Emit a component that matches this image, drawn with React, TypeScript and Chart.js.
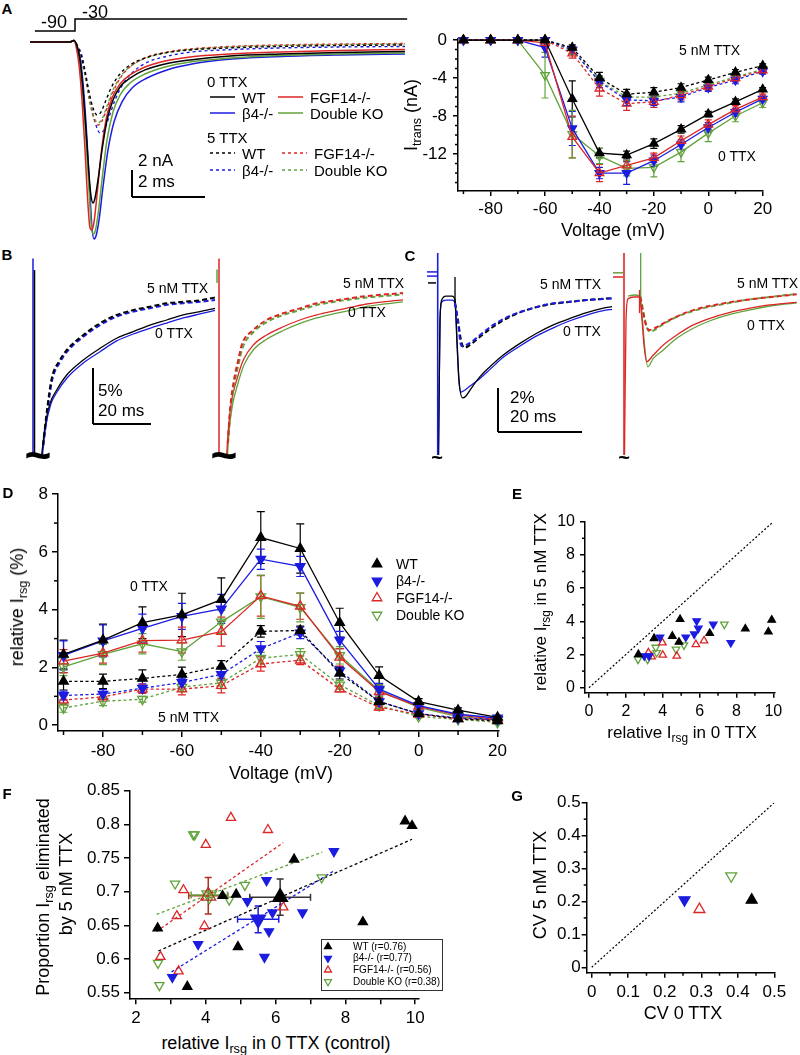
import React, { useEffect, useRef } from 'react';
import { Chart, registerables } from 'chart.js';
Chart.register(...registerables);

const FONT = "'Liberation Sans', Arial, Helvetica, sans-serif";
Chart.defaults.font.family = FONT;
Chart.defaults.color = '#000';

const BLACK = '#000000';
const BLUE = '#1c1ce0';
const RED = '#dc2626';
const GREEN = '#62a23c';
const DARKRED = '#b0321e';
const CLEAR = 'rgba(0,0,0,0)';

// ---------------- Panel A (left): transient currents, [ms, nA] ----------------
const A_STEP_T = [-1.1, 0, 0, 9.1];
const A_STEP_MV = [-90, -90, -30, -30];
const A_WT_0 = [[-1.23,0],[-0.14,0],[-0.03,0.11],[0.055,-0.3],[0.137,-1.33],[0.219,-3.56],[0.301,-6.52],[0.384,-9.85],[0.438,-11.41],[0.493,-11.93],[0.548,-11.56],[0.63,-10.22],[0.74,-8.0],[0.877,-5.78],[1.041,-4.3],[1.233,-3.33],[1.507,-2.67],[1.918,-2.07],[2.466,-1.63],[3.151,-1.33],[4.247,-1.04],[5.616,-0.89],[7.26,-0.78],[9.04,-0.7]];
const A_FGF_0 = [[-1.23,0],[-0.14,0],[-0.03,0.11],[0.027,-0.3],[0.11,-1.7],[0.192,-4.3],[0.274,-8.0],[0.356,-12.07],[0.411,-13.78],[0.466,-13.93],[0.521,-13.33],[0.603,-11.33],[0.712,-8.37],[0.849,-5.78],[1.014,-4.15],[1.233,-3.11],[1.507,-2.44],[1.918,-1.85],[2.466,-1.41],[3.151,-1.11],[4.247,-0.89],[5.616,-0.74],[7.26,-0.63],[9.04,-0.56]];
const A_DKO_0 = [[-1.23,0],[-0.14,0],[-0.03,0.11],[0.055,-0.3],[0.137,-1.48],[0.219,-3.93],[0.301,-7.26],[0.384,-10.96],[0.438,-13.33],[0.493,-14.22],[0.548,-14.07],[0.63,-12.81],[0.74,-10.22],[0.877,-7.26],[1.041,-5.19],[1.233,-3.93],[1.507,-3.04],[1.918,-2.37],[2.466,-1.85],[3.151,-1.48],[4.247,-1.19],[5.616,-1.0],[7.26,-0.89],[9.04,-0.81]];
const A_B4_0 = [[-1.23,0],[-0.14,0],[-0.03,0.11],[0.055,-0.3],[0.151,-1.33],[0.247,-3.93],[0.329,-7.26],[0.411,-11.33],[0.466,-13.78],[0.521,-14.59],[0.575,-14.37],[0.658,-13.19],[0.767,-10.74],[0.904,-8.0],[1.068,-5.93],[1.288,-4.44],[1.562,-3.41],[1.973,-2.67],[2.521,-2.07],[3.205,-1.63],[4.301,-1.26],[5.671,-1.07],[7.26,-0.96],[9.04,-0.89]];
const A_WT_5 = [[-1.23,0],[-0.14,0],[-0.03,0.11],[0.055,-0.22],[0.164,-0.96],[0.274,-2.22],[0.384,-3.7],[0.493,-4.89],[0.603,-5.41],[0.712,-5.19],[0.849,-4.3],[1.014,-3.26],[1.233,-2.37],[1.507,-1.7],[1.918,-1.19],[2.466,-0.81],[3.151,-0.59],[4.247,-0.44],[5.616,-0.33],[7.26,-0.26],[9.04,-0.22]];
const A_DKO_5 = [[-1.23,0],[-0.14,0],[-0.03,0.11],[0.055,-0.22],[0.164,-1.04],[0.274,-2.44],[0.384,-4.07],[0.493,-5.33],[0.63,-6.0],[0.74,-5.7],[0.877,-4.74],[1.041,-3.56],[1.26,-2.52],[1.534,-1.78],[1.945,-1.19],[2.521,-0.78],[3.151,-0.56],[4.247,-0.37],[5.616,-0.26],[7.26,-0.19],[9.04,-0.15]];
const A_FGF_5 = [[-1.23,0],[-0.14,0],[-0.03,0.11],[0.055,-0.22],[0.164,-1.04],[0.274,-2.52],[0.384,-4.15],[0.493,-5.48],[0.63,-6.15],[0.74,-5.85],[0.877,-4.89],[1.041,-3.7],[1.26,-2.59],[1.534,-1.78],[1.945,-1.15],[2.521,-0.74],[3.151,-0.52],[4.247,-0.33],[5.616,-0.22],[7.26,-0.15],[9.04,-0.11]];
const A_B4_5 = [[-1.23,0],[-0.14,0],[-0.03,0.11],[0.055,-0.22],[0.192,-1.04],[0.301,-2.52],[0.411,-4.3],[0.548,-5.93],[0.685,-6.74],[0.795,-6.52],[0.932,-5.56],[1.096,-4.3],[1.315,-3.11],[1.589,-2.22],[2.0,-1.48],[2.548,-1.04],[3.205,-0.74],[4.301,-0.56],[5.671,-0.44],[7.26,-0.37],[9.04,-0.33]];

// ---------------- Panel A (right): I-V ----------------
const IV_V = [-90, -80, -70, -60, -50, -40, -30, -20, -10, 0, 10, 20];
const IV_WT_0 = [0, 0, 0, 0, -6.2, -11.9, -12.1, -10.9, -9.4, -7.8, -6.5, -5.2];
const IV_B4_0 = [0, 0, 0, -0.8, -9.3, -14.0, -14.0, -12.7, -11.0, -9.2, -7.6, -6.2];
const IV_FGF_0 = [0, 0, 0, -0.3, -10.2, -14.0, -13.2, -12.4, -10.6, -8.9, -7.3, -6.0];
const IV_DKO_0 = [0, 0, 0, -3.7, -9.9, -12.2, -13.5, -13.4, -11.8, -9.8, -8.0, -6.6];
const IV_WT_5 = [0, 0, 0, 0, -0.8, -4.0, -5.7, -5.5, -5.0, -4.2, -3.4, -2.7];
const IV_B4_5 = [0, 0, 0, 0, -1.0, -4.4, -6.3, -6.4, -6.0, -5.0, -4.2, -3.3];
const IV_FGF_5 = [0, 0, 0, 0, -1.4, -5.1, -6.7, -6.5, -5.8, -4.9, -4.0, -3.2];
const IV_DKO_5 = [0, 0, 0, 0, -1.1, -4.3, -6.0, -6.0, -5.6, -4.7, -3.9, -3.1];
const IV_WT_0_E = [0.1, 0.1, 0.1, 0.2, 1.9, 0.5, 0.4, 0.5, 0.4, 0.3, 0.3, 0.2];
const IV_B4_0_E = [0.1, 0.1, 0.1, 1.0, 1.8, 0.6, 1.2, 0.6, 0.5, 0.5, 0.4, 0.3];
const IV_FGF_0_E = [0.1, 0.1, 0.1, 0.3, 2.2, 0.9, 0.5, 0.5, 0.5, 0.5, 0.4, 0.3];
const IV_DKO_0_E = [0.1, 0.1, 0.1, 2.4, 2.5, 0.8, 0.8, 1.0, 1.0, 0.9, 0.6, 0.5];
const IV_WT_5_E = [0.1, 0.1, 0.1, 0.1, 0.3, 0.6, 0.5, 0.5, 0.4, 0.3, 0.3, 0.2];
const IV_B4_5_E = [0.1, 0.1, 0.1, 0.1, 0.4, 0.6, 0.6, 0.5, 0.5, 0.4, 0.4, 0.3];
const IV_FGF_5_E = [0.1, 0.1, 0.1, 0.1, 0.5, 0.8, 0.7, 0.6, 0.5, 0.4, 0.4, 0.3];
const IV_DKO_5_E = [0.1, 0.1, 0.1, 0.1, 0.4, 0.5, 0.5, 0.5, 0.5, 0.4, 0.3, 0.3];
const IV_XTICKS = [-80, -60, -40, -20, 0, 20];
const IV_XMINOR = [-90, -70, -50, -30, -10, 10];
const IV_YTICKS = [-12, -8, -4, 0];
const IV_YMINOR = [-15, -14, -13, -11, -10, -9, -7, -6, -5, -3, -2, -1];

// ---------------- Panel B: resurgent traces [ms, %] ----------------
const B_L_WT_0 = [[4.03,0.45],[5.17,2.97],[6.9,5.06],[9.2,6.25],[12.66,7.59],[18.38,8.93],[24.14,9.97],[29.9,10.87],[35.62,11.46],[41.38,12.05],[47.14,12.5],[52.86,12.95],[58.62,13.24],[63.79,13.54]];
const B_L_B4_0 = [[4.31,0.45],[5.34,2.86],[7.07,4.91],[9.31,6.07],[12.76,7.32],[18.38,8.66],[24.14,9.67],[29.9,10.63],[35.62,11.25],[41.38,11.76],[47.14,12.23],[52.86,12.68],[58.62,13.04],[63.79,13.35]];
const B_L_WT_5 = [[4.48,1.34],[5.86,4.46],[7.48,7.29],[10.34,8.93],[12.66,9.82],[18.38,11.16],[24.14,12.21],[29.9,12.95],[35.62,13.39],[41.38,13.69],[47.14,13.99],[52.86,14.13],[58.62,14.26],[63.79,14.51]];
const B_L_B4_5 = [[4.6,1.3],[6.0,4.3],[7.6,7.1],[10.4,8.75],[12.7,9.65],[18.38,11.0],[24.14,12.05],[29.9,12.8],[35.62,13.25],[41.38,13.55],[47.14,13.85],[52.86,14.0],[58.62,14.12],[63.79,14.29]];
const B_L_WT_JUMP = [[1.55,0.63],[1.55,16.96]];
const B_L_B4_JUMP = [[1.03,0.63],[1.03,18.0]];
const B_R_FGF_0 = [[4.03,0.45],[4.59,2.68],[5.76,5.36],[7.48,7.14],[9.76,8.93],[13.21,10.27],[17.83,11.16],[23.55,11.9],[29.31,12.5],[35.07,12.95],[40.79,13.3],[46.55,13.62],[52.31,13.93],[64.83,14.29]];
const B_R_DKO_0 = [[4.31,0.45],[4.83,2.5],[6.03,4.91],[7.76,6.7],[10.0,8.48],[13.45,9.91],[17.93,10.8],[23.55,11.56],[29.31,12.19],[35.07,12.68],[40.79,13.04],[46.55,13.35],[52.31,13.71],[64.83,14.11]];
const B_R_FGF_5 = [[4.4,1.5],[5.17,4.46],[6.55,7.14],[8.03,8.93],[9.21,10.27],[13.21,11.61],[17.83,12.5],[23.55,13.1],[29.31,13.54],[35.07,13.99],[40.79,14.22],[46.55,14.44],[52.31,14.64],[64.83,14.91]];
const B_R_DKO_5 = [[4.5,1.5],[5.34,4.29],[6.72,6.88],[8.21,8.66],[9.48,10.0],[13.28,11.43],[17.93,12.32],[23.55,12.95],[29.31,13.39],[35.07,13.84],[40.79,14.11],[46.55,14.33],[52.31,14.51],[64.83,14.78]];
const B_R_FGF_JUMP = [[1.38,0.63],[1.38,18.0]];
const B_R_DKO_JUMP = [[0.69,15.8],[0.69,17.0]];

// ---------------- Panel C: resurgent traces [ms, %] ----------------
const C_L_WT_0 = [[3.23,0.23],[3.59,6.36],[4.0,7.27],[5.02,7.45],[6.46,7.45],[7.18,7.27],[7.66,5.45],[8.13,3.64],[9.02,2.82],[9.81,2.91],[10.77,3.18],[13.16,3.79],[15.55,4.24],[18.73,4.77],[22.73,5.3],[26.72,5.76],[30.69,6.14],[34.69,6.44],[38.68,6.7],[42.66,6.9],[44.74,6.97]];
const C_L_B4_0 = [[3.23,0.23],[3.59,6.36],[4.0,7.18],[5.02,7.27],[6.46,7.27],[7.18,7.14],[7.66,5.23],[8.13,3.55],[8.61,3.09],[9.57,3.18],[10.77,3.36],[13.16,3.71],[15.55,4.12],[18.73,4.67],[22.73,5.18],[26.72,5.64],[30.69,6.01],[34.69,6.33],[38.68,6.59],[42.66,6.79],[44.74,6.85]];
const C_L_WT_5 = [[7.18,7.14],[7.89,6.36],[8.61,5.45],[9.4,5.1],[10.77,5.23],[13.16,5.6],[16.34,6.06],[20.33,6.51],[24.33,6.82],[29.11,7.05],[33.9,7.17],[38.68,7.27],[44.74,7.36]];
const C_L_B4_5 = [[7.18,7.14],[7.89,6.27],[8.49,5.32],[8.85,5.18],[10.77,5.32],[13.16,5.68],[16.34,6.14],[20.33,6.55],[24.33,6.82],[29.11,7.07],[33.9,7.18],[38.68,7.27],[44.74,7.34]];
const C_L_B4_JUMP = [[3.04,0.23],[3.04,9.41]];
const C_L_B4_PRE1 = [[0.48,8.55],[2.87,8.55]];
const C_L_B4_PRE2 = [[0.48,8.36],[2.87,8.36]];
const C_L_WT_PRE = [[0.72,8.05],[2.63,8.05]];
const C_L_WT_STEP = [[7.18,8.32],[7.18,7.14]];
const C_R_FGF_0 = [[3.47,0.23],[3.83,6.36],[4.31,7.32],[5.74,7.41],[7.06,7.41],[7.66,6.36],[8.13,5.23],[8.78,4.47],[10.36,4.77],[12.75,5.23],[15.96,5.68],[19.93,6.14],[23.92,6.44],[28.71,6.71],[33.49,6.9],[38.28,7.05],[44.67,7.17]];
const C_R_DKO_0 = [[4.31,7.45],[5.74,7.5],[7.18,7.45],[7.78,6.36],[8.25,5.23],[9.04,4.24],[10.36,4.62],[12.75,5.0],[15.96,5.53],[19.93,5.99],[23.92,6.33],[28.71,6.62],[33.49,6.82],[38.28,7.0],[44.67,7.14]];
const C_R_FGF_5 = [[7.18,7.41],[7.89,6.73],[8.61,6.14],[9.4,5.91],[10.77,6.0],[12.75,6.21],[16.75,6.59],[21.53,6.9],[27.11,7.12],[33.49,7.3],[39.07,7.42],[44.67,7.53]];
const C_R_DKO_5 = [[7.3,7.45],[8.13,6.59],[8.85,6.0],[9.57,5.83],[11.0,5.95],[12.75,6.18],[16.75,6.57],[21.53,6.86],[27.11,7.09],[33.49,7.3],[39.07,7.43],[44.67,7.55]];
const C_R_FGF_JUMP = [[3.35,0.23],[3.35,9.41]];
const C_R_DKO_JUMP = [[7.34,7.42],[7.34,9.41]];
const C_R_FGF_STEP = [[7.06,6.68],[7.06,7.73]];
const C_R_DKO_PRE = [[0.72,8.51],[3.11,8.51]];
const C_R_FGF_PRE = [[0.72,8.32],[3.11,8.32]];

// ---------------- Panel D: relative Irsg vs voltage ----------------
const D_V = [-90, -80, -70, -60, -50, -40, -30, -20, -10, 0, 10, 20];
const D_WT_0 = [2.45, 2.95, 3.55, 3.82, 4.35, 6.5, 6.12, 3.55, 1.72, 0.82, 0.52, 0.27];
const D_B4_0 = [2.42, 2.92, 3.35, 3.77, 4.03, 5.75, 5.5, 2.95, 1.25, 0.68, 0.38, 0.25];
const D_FGF_0 = [2.22, 2.5, 2.93, 2.95, 3.24, 4.48, 4.12, 2.35, 1.16, 0.65, 0.35, 0.2];
const D_DKO_0 = [2.02, 2.45, 2.82, 2.55, 3.58, 4.45, 4.08, 2.42, 1.2, 0.62, 0.3, 0.18];
const D_WT_5 = [1.52, 1.52, 1.62, 1.76, 2.04, 3.25, 3.28, 1.8, 0.82, 0.4, 0.22, 0.15];
const D_B4_5 = [1.03, 1.08, 1.28, 1.48, 1.76, 2.65, 3.2, 1.88, 0.82, 0.4, 0.25, 0.2];
const D_FGF_5 = [0.87, 0.98, 1.25, 1.25, 1.37, 2.12, 2.25, 1.25, 0.62, 0.38, 0.22, 0.18];
const D_DKO_5 = [0.6, 0.83, 0.9, 1.32, 1.47, 2.32, 2.45, 1.4, 0.68, 0.3, 0.2, 0.1];
const D_WT_0_E = [0.5, 0.55, 0.55, 0.75, 0.75, 0.9, 0.85, 0.5, 0.3, 0.1, 0.08, 0.05];
const D_B4_0_E = [0.5, 0.55, 0.5, 0.45, 0.5, 0.35, 0.35, 0.3, 0.2, 0.1, 0.08, 0.05];
const D_FGF_0_E = [0.4, 0.35, 0.4, 0.45, 0.5, 0.7, 0.45, 0.3, 0.2, 0.1, 0.05, 0.05];
const D_DKO_0_E = [0.3, 0.35, 0.35, 0.3, 0.4, 0.75, 0.5, 0.3, 0.2, 0.08, 0.05, 0.05];
const D_WT_5_E = [0.3, 0.25, 0.3, 0.25, 0.2, 0.2, 0.15, 0.2, 0.15, 0.08, 0.05, 0.05];
const D_B4_5_E = [0.15, 0.15, 0.15, 0.15, 0.2, 0.25, 0.2, 0.15, 0.1, 0.05, 0.05, 0.05];
const D_FGF_5_E = [0.15, 0.15, 0.15, 0.2, 0.25, 0.25, 0.15, 0.1, 0.1, 0.05, 0.05, 0.05];
const D_DKO_5_E = [0.15, 0.15, 0.1, 0.15, 0.2, 0.2, 0.2, 0.15, 0.1, 0.05, 0.05, 0.05];
const D_XTICKS = [-80, -60, -40, -20, 0, 20];
const D_XMINOR = [-90, -70, -50, -30, -10, 10];
const D_YTICKS = [0, 2, 4, 6, 8];
const D_YMINOR = [1, 3, 5, 7];

// ---------------- Panel E ----------------
const E_WT_X = [2.68, 3.53, 4.52, 4.94, 4.88, 6.55, 8.48, 9.73, 9.91];
const E_WT_Y = [2.01, 2.97, 3.11, 4.12, 2.75, 3.28, 3.55, 3.37, 4.08];
const E_B4_X = [3.0, 3.26, 3.85, 5.25, 5.71, 5.84, 5.93, 6.74, 7.69];
const E_B4_Y = [1.91, 1.91, 3.04, 3.04, 3.23, 4.02, 3.58, 3.82, 2.71];
const E_FGF_X = [3.22, 3.4, 3.98, 4.0, 4.76, 5.8, 6.24];
const E_FGF_Y = [2.11, 1.87, 2.71, 1.97, 1.91, 2.61, 2.83];
const E_DKO_X = [2.66, 3.18, 3.62, 3.67, 4.72, 5.15, 7.34];
const E_DKO_Y = [1.71, 1.71, 2.43, 2.11, 2.31, 2.57, 3.82];
const E_UNITY = [[0, 0], [10, 10]];
const E_TICKS = [0, 2, 4, 6, 8, 10];
const E_MINOR = [1, 3, 5, 7, 9];

// ---------------- Panel F ----------------
const F_WT_X = [2.62, 3.47, 4.48, 4.87, 4.92, 6.53, 8.5, 9.71, 9.91];
const F_WT_Y = [0.646, 0.559, 0.694, 0.696, 0.618, 0.748, 0.655, 0.805, 0.798];
const F_B4_X = [3.04, 3.78, 5.19, 5.68, 5.74, 5.81, 5.91, 6.77, 7.67];
const F_B4_Y = [0.573, 0.622, 0.686, 0.603, 0.717, 0.641, 0.669, 0.669, 0.76];
const F_FGF_X = [2.7, 3.22, 3.17, 3.36, 3.96, 4.0, 4.72, 5.78, 6.22];
const F_FGF_Y = [0.6035, 0.582, 0.664, 0.7025, 0.649, 0.77, 0.81, 0.792, 0.677];
const F_DKO_X = [2.63, 2.67, 3.12, 3.64, 3.68, 4.67, 5.12, 7.32];
const F_DKO_Y = [0.594, 0.561, 0.712, 0.785, 0.785, 0.688, 0.71, 0.721];
const F_WT_FIT = [[2.64, 0.612], [9.91, 0.778]];
const F_B4_FIT = [[3.02, 0.581], [7.67, 0.731]];
const F_FGF_FIT = [[2.59, 0.641], [6.22, 0.773]];
const F_DKO_FIT = [[2.59, 0.6665], [7.34, 0.759]];
// mean [x, y, xErr, yErr]
const F_WT_MEAN = [6.13, 0.692, 0.87, 0.027];
const F_B4_MEAN = [5.5, 0.659, 0.59, 0.02];
const F_FGF_MEAN = [4.07, 0.694, 0.56, 0.027];
const F_DKO_MEAN = [4.1, 0.695, 0.52, 0.004];
const F_XTICKS = [2, 3, 4, 5, 6, 7, 8, 9, 10];
const F_YTICKS = [0.55, 0.6, 0.65, 0.7, 0.75, 0.8, 0.85];
const F_LEGEND = ['WT (r=0.76)', 'β4-/- (r=0.77)', 'FGF14-/- (r=0.56)', 'Double KO (r=0.38)'];

// ---------------- Panel G ----------------
const G_CV0 = [0.438, 0.254, 0.295, 0.382];   // WT, b4, FGF14, DKO
const G_CV5 = [0.2045, 0.2045, 0.176, 0.2775];
const G_UNITY = [[0, 0], [0.5, 0.5]];
const G_TICKS = [0, 0.1, 0.2, 0.3, 0.4, 0.5];
const G_MINOR = [0.05, 0.15, 0.25, 0.35, 0.45];

const GROUPS = ['WT', 'β4-/-', 'FGF14-/-', 'Double KO'];

// ---------------- helpers ----------------
const pts = (a: number[][]) => a.map(([x, y]) => ({ x, y }));
const xy = (xs: number[], ys: number[]) => xs.map((x, i) => ({ x, y: ys[i] }));

function triPath(ctx: CanvasRenderingContext2D, x: number, y: number, r: number, down: boolean) {
  let a = down ? Math.PI : 0;
  ctx.beginPath();
  for (let k = 0; k < 3; k++) {
    const px = x + Math.sin(a) * r, py = y - Math.cos(a) * r;
    if (k === 0) ctx.moveTo(px, py); else ctx.lineTo(px, py);
    a += (2 * Math.PI) / 3;
  }
  ctx.closePath();
}

const errorBarsPlugin = {
  id: 'errorBars',
  beforeDatasetsDraw(chart: any) {
    const ctx = chart.ctx;
    chart.data.datasets.forEach((ds: any, i: number) => {
      if (!ds.yErr && !ds.xErr) return;
      const meta = chart.getDatasetMeta(i);
      const xs = chart.scales[meta.xAxisID], ys = chart.scales[meta.yAxisID];
      const cap = ds.errCap ?? 3.5;
      ctx.save();
      ctx.strokeStyle = ds.errColor || ds.borderColor;
      ctx.lineWidth = ds.errWidth || 1.2;
      ctx.setLineDash([]);
      ds.data.forEach((p: any, j: number) => {
        const px = xs.getPixelForValue(p.x), py = ys.getPixelForValue(p.y);
        const ye = ds.yErr ? ds.yErr[j] : 0;
        if (ye) {
          const a = ys.getPixelForValue(p.y + ye), b = ys.getPixelForValue(p.y - ye);
          ctx.beginPath();
          ctx.moveTo(px, a); ctx.lineTo(px, b);
          ctx.moveTo(px - cap, a); ctx.lineTo(px + cap, a);
          ctx.moveTo(px - cap, b); ctx.lineTo(px + cap, b);
          ctx.stroke();
        }
        const xe = ds.xErr ? ds.xErr[j] : 0;
        if (xe) {
          const a = xs.getPixelForValue(p.x - xe), b = xs.getPixelForValue(p.x + xe);
          ctx.beginPath();
          ctx.moveTo(a, py); ctx.lineTo(b, py);
          ctx.moveTo(a, py - cap); ctx.lineTo(a, py + cap);
          ctx.moveTo(b, py - cap); ctx.lineTo(b, py + cap);
          ctx.stroke();
        }
      });
      ctx.restore();
    });
  },
};

function minorTicks(xv: number[] | null, yv: number[] | null, len = 3) {
  return {
    id: 'minorTicks',
    afterDraw(chart: any) {
      const ctx = chart.ctx;
      ctx.save();
      ctx.strokeStyle = '#000';
      ctx.lineWidth = 1.5;
      const sx = chart.scales.x, sy = chart.scales.y;
      (xv || []).forEach((v) => {
        const p = sx.getPixelForValue(v);
        ctx.beginPath(); ctx.moveTo(p, sx.top); ctx.lineTo(p, sx.top + len); ctx.stroke();
      });
      (yv || []).forEach((v) => {
        const p = sy.getPixelForValue(v);
        ctx.beginPath(); ctx.moveTo(sy.right, p); ctx.lineTo(sy.right - len, p); ctx.stroke();
      });
      ctx.restore();
    },
  };
}

// keys: legend glyphs in page coordinates
function keys(items: any[], ox: number, oy: number) {
  return {
    id: 'keys',
    afterDraw(chart: any) {
      const ctx = chart.ctx;
      items.forEach((it) => {
        ctx.save();
        if (it.kind === 'line') {
          ctx.strokeStyle = it.color;
          ctx.lineWidth = it.width || 1.5;
          ctx.setLineDash(it.dash || []);
          ctx.beginPath(); ctx.moveTo(it.x1 - ox, it.y - oy); ctx.lineTo(it.x2 - ox, it.y - oy); ctx.stroke();
        } else {
          triPath(ctx, it.x - ox, it.y - oy, it.r, it.down);
          if (it.filled) { ctx.fillStyle = it.color; ctx.fill(); }
          ctx.strokeStyle = it.color; ctx.lineWidth = it.width || 1.3; ctx.stroke();
        }
        ctx.restore();
      });
    },
  };
}

const trace = (p: number[][], color: string, dashed = false, width = 1.3, dash = [5, 3]) => ({
  data: pts(p), showLine: true, pointRadius: 0, borderColor: color, borderWidth: width,
  borderDash: dashed ? dash : [], cubicInterpolationMode: 'monotone', fill: false,
});
const seg = (p: number[][], color: string, width = 1.3, dash: number[] = []) => ({
  data: pts(p), showLine: true, pointRadius: 0, borderColor: color, borderWidth: width, borderDash: dash, tension: 0, fill: false,
});

function marks(data: any[], color: string, filled: boolean, down: boolean, r: number, extra: any = {}) {
  return {
    data, showLine: false, pointStyle: 'triangle', pointRotation: down ? 180 : 0, pointRadius: r,
    pointBackgroundColor: filled ? color : CLEAR, pointBorderColor: color, pointBorderWidth: 1.3,
    borderColor: color, clip: false, ...extra,
  };
}
function series(xs: number[], ys: number[], err: number[], color: string, filled: boolean, down: boolean, dashed: boolean, r: number, cap: number) {
  return {
    ...marks(xy(xs, ys), color, filled, down, r),
    showLine: true, borderWidth: 1.3, borderDash: dashed ? [3, 2.5] : [], tension: 0,
    yErr: err, errCap: cap, errWidth: 1.2,
  };
}

function traceConfig(xmax: number, ymin: number, ymax: number, datasets: any[], plugins: any[] = [], xmin = 0, extraScales: any = {}) {
  return {
    type: 'scatter',
    data: { datasets },
    options: {
      responsive: false, animation: false, devicePixelRatio: 1, events: [],
      layout: { padding: 0 },
      plugins: { legend: { display: false }, tooltip: { enabled: false } },
      scales: {
        x: { type: 'linear', display: false, min: xmin, max: xmax },
        y: { type: 'linear', display: false, min: ymin, max: ymax },
        ...extraScales,
      },
    },
    plugins,
  };
}

function axisConfig(o: any) {
  const mk = (ax: any, isX: boolean) => ({
    type: 'linear', min: ax.min, max: ax.max,
    afterBuildTicks: (s: any) => { s.ticks = ax.ticks.map((v: number) => ({ value: v })); },
    afterFit: (s: any) => { if (isX) s.height = o.xHeight; else s.width = o.yWidth; },
    ticks: {
      font: { size: o.fontSize, family: FONT }, color: '#000', padding: isX ? o.xPad : o.yPad,
      autoSkip: false, maxRotation: 0, minRotation: 0,
      callback: (v: number) => (ax.label ? ax.label(v) : String(v)),
    },
    grid: { display: true, drawOnChartArea: false, drawTicks: true, tickLength: o.tickLen, color: '#000', lineWidth: 1.5 },
    border: { display: true, color: '#000', width: 1.5 },
  });
  return {
    type: 'scatter',
    data: { datasets: o.datasets },
    options: {
      responsive: false, animation: false, devicePixelRatio: 1, events: [],
      layout: { padding: { left: 0, top: o.padTop, right: o.padRight, bottom: 0 } },
      plugins: { legend: { display: false }, tooltip: { enabled: false } },
      scales: { x: mk(o.x, true), y: mk(o.y, false) },
    },
    plugins: [errorBarsPlugin, ...(o.plugins || [])],
  };
}

function ChartCanvas({ left, top, width, height, config }: any) {
  const ref = useRef<HTMLCanvasElement>(null);
  useEffect(() => {
    const chart = new Chart(ref.current as HTMLCanvasElement, config);
    return () => chart.destroy();
  }, []);
  return <canvas ref={ref} width={width} height={height} style={{ position: 'absolute', left, top, width, height }} />;
}

function L({ x, y, s = 14, a = 'start', rot = false, b = false, children }: any) {
  const tx = a === 'middle' ? '-50%' : a === 'end' ? '-100%' : '0';
  return (
    <div style={{
      position: 'absolute', left: x, top: y, fontSize: s, lineHeight: 1, whiteSpace: 'nowrap',
      fontWeight: b ? 'bold' : 'normal',
      transform: rot ? 'translate(-50%,-50%) rotate(-90deg)' : `translate(${tx},-50%)`,
    }}>{children}</div>
  );
}
const Sub = ({ children }: any) => (
  <span style={{ fontSize: '0.7em', position: 'relative', top: '0.35em' }}>{children}</span>
);
const HLine = ({ x1, x2, y }: any) => <div style={{ position: 'absolute', left: x1, top: y - 0.75, width: x2 - x1, height: 1.5, background: '#000' }} />;
const VLine = ({ x, y1, y2 }: any) => <div style={{ position: 'absolute', left: x - 0.75, top: y1, width: 1.5, height: y2 - y1, background: '#000' }} />;

// ---------------- chart configs ----------------
function cfgALeft() {
  const ds = [
    trace(A_WT_0, BLACK, false, 1.5),
    trace(A_FGF_0, RED, false, 1.5),
    trace(A_DKO_0, GREEN, false, 1.5),
    trace(A_B4_0, BLUE, false, 1.5),
    trace(A_WT_5, BLACK, true, 1.4, [3, 3]),
    trace(A_DKO_5, GREEN, true, 1.4, [3, 3]),
    trace(A_FGF_5, RED, true, 1.4, [3, 3]),
    trace(A_B4_5, BLUE, true, 1.4, [3, 3]),
    { ...seg(A_STEP_T.map((t, i) => [t, A_STEP_MV[i]]), BLACK, 1.5), yAxisID: 'yv' },
  ];
  const lines = [
    { kind: 'line', x1: 210, x2: 235, y: 97, color: BLACK },
    { kind: 'line', x1: 278, x2: 303, y: 97, color: RED },
    { kind: 'line', x1: 210, x2: 235, y: 113, color: BLUE },
    { kind: 'line', x1: 278, x2: 303, y: 113, color: GREEN },
    { kind: 'line', x1: 210, x2: 235, y: 153, color: BLACK, dash: [3, 3] },
    { kind: 'line', x1: 282, x2: 307, y: 153, color: RED, dash: [3, 3] },
    { kind: 'line', x1: 210, x2: 235, y: 170, color: BLUE, dash: [3, 3] },
    { kind: 'line', x1: 282, x2: 307, y: 170, color: GREEN, dash: [3, 3] },
  ];
  return traceConfig(9.178, -15.04, 2.37, ds, [keys(lines, 28, 10)], -1.288,
    { yv: { type: 'linear', display: false, min: -1160, max: 15 } });
}

function cfgARight() {
  const ds = [
    series(IV_V, IV_WT_0, IV_WT_0_E, BLACK, true, false, false, 5, 3.5),
    series(IV_V, IV_WT_5, IV_WT_5_E, BLACK, true, false, true, 5, 3.5),
    series(IV_V, IV_FGF_0, IV_FGF_0_E, RED, false, false, false, 5, 3.5),
    series(IV_V, IV_B4_0, IV_B4_0_E, BLUE, true, true, false, 5, 3.5),
    series(IV_V, IV_DKO_0, IV_DKO_0_E, GREEN, false, true, false, 5, 3.5),
    series(IV_V, IV_FGF_5, IV_FGF_5_E, RED, false, false, true, 5, 3.5),
    series(IV_V, IV_B4_5, IV_B4_5_E, BLUE, true, true, true, 5, 3.5),
    series(IV_V, IV_DKO_5, IV_DKO_5_E, GREEN, false, true, true, 5, 3.5),
  ];
  return axisConfig({
    datasets: ds, padTop: 18.6, padRight: 36.8, yWidth: 68, xHeight: 38.9,
    x: { min: -92, max: 20.2, ticks: IV_XTICKS }, y: { min: -15.9, max: 0.15, ticks: IV_YTICKS },
    fontSize: 17, xPad: 3.5, yPad: 6, tickLen: 5,
    plugins: [minorTicks(IV_XMINOR, IV_YMINOR, 3)],
  });
}

function cfgD() {
  const r = 5.5, c = 4;
  const ds = [
    series(D_V, D_WT_0, D_WT_0_E, BLACK, true, false, false, r, c),
    series(D_V, D_WT_5, D_WT_5_E, BLACK, true, false, true, r, c),
    series(D_V, D_B4_0, D_B4_0_E, BLUE, true, true, false, r, c),
    series(D_V, D_B4_5, D_B4_5_E, BLUE, true, true, true, r, c),
    series(D_V, D_FGF_0, D_FGF_0_E, RED, false, false, false, r, c),
    series(D_V, D_FGF_5, D_FGF_5_E, RED, false, false, true, r, c),
    series(D_V, D_DKO_0, D_DKO_0_E, GREEN, false, true, false, r, c),
    series(D_V, D_DKO_5, D_DKO_5_E, GREEN, false, true, true, r, c),
  ];
  const legend = [
    { x: 377, y: 564, r: 5.5, color: BLACK, filled: true, down: false },
    { x: 377, y: 581, r: 5.5, color: BLUE, filled: true, down: true },
    { x: 377, y: 598, r: 5.5, color: RED, filled: false, down: false },
    { x: 377, y: 615, r: 5.5, color: GREEN, filled: false, down: true },
  ];
  return axisConfig({
    datasets: ds, padTop: 14, padRight: 61.7, yWidth: 58, xHeight: 34,
    x: { min: -91.4, max: 20.2, ticks: D_XTICKS }, y: { min: -0.2, max: 8, ticks: D_YTICKS },
    fontSize: 17, xPad: 4, yPad: 4, tickLen: 6,
    plugins: [minorTicks(D_XMINOR, D_YMINOR, 4), keys(legend, 0, 480)],
  });
}

function cfgE() {
  const r = 4.3;
  const ds = [
    marks(xy(E_WT_X, E_WT_Y), BLACK, true, false, r),
    marks(xy(E_B4_X, E_B4_Y), BLUE, true, true, r),
    marks(xy(E_FGF_X, E_FGF_Y), RED, false, false, r),
    marks(xy(E_DKO_X, E_DKO_Y), GREEN, false, true, r),
    seg(E_UNITY, BLACK, 1.2, [2, 2]),
  ];
  return axisConfig({
    datasets: ds, padTop: 16.7, padRight: 25, yWidth: 45, xHeight: 37.3,
    x: { min: -0.217, max: 10.09, ticks: E_TICKS }, y: { min: -0.3, max: 10, ticks: E_TICKS },
    fontSize: 16, xPad: 4, yPad: 5, tickLen: 5,
    plugins: [minorTicks(E_MINOR, E_MINOR, 3)],
  });
}

function cfgF() {
  const r = 5.3, R = 8.5;
  const mean = (m: number[], color: string, filled: boolean, down: boolean, ec?: string) => ({
    ...marks([{ x: m[0], y: m[1] }], color, filled, down, R),
    xErr: [m[2]], yErr: [m[3]], errCap: 3.5, errWidth: 1.5, errColor: ec || color,
  });
  const ds = [
    mean(F_WT_MEAN, BLACK, true, false, '#333'),
    mean(F_B4_MEAN, BLUE, true, true),
    mean(F_FGF_MEAN, DARKRED, false, false),
    mean(F_DKO_MEAN, GREEN, false, true),
    marks(xy(F_WT_X, F_WT_Y), BLACK, true, false, r),
    marks(xy(F_B4_X, F_B4_Y), BLUE, true, true, r),
    marks(xy(F_FGF_X, F_FGF_Y), RED, false, false, r),
    marks(xy(F_DKO_X, F_DKO_Y), GREEN, false, true, r),
    seg(F_WT_FIT, BLACK, 1.3, [3, 2.5]),
    seg(F_B4_FIT, BLUE, 1.3, [3, 2.5]),
    seg(F_FGF_FIT, RED, 1.3, [3, 2.5]),
    seg(F_DKO_FIT, GREEN, 1.3, [3, 2.5]),
  ];
  const legend = [
    { x: 328, y: 946.7, r: 4, color: BLACK, filled: true, down: false },
    { x: 328, y: 958.3, r: 4, color: BLUE, filled: true, down: true },
    { x: 328, y: 970, r: 4, color: RED, filled: false, down: false },
    { x: 328, y: 981.7, r: 4, color: GREEN, filled: false, down: true },
  ];
  return axisConfig({
    datasets: ds, padTop: 15.8, padRight: 121.3, yWidth: 130, xHeight: 34.7,
    x: { min: 1.828, max: 10.1, ticks: F_XTICKS, label: (v: number) => (v % 2 === 0 ? String(v) : '') },
    y: { min: 0.5417, max: 0.85, ticks: F_YTICKS },
    fontSize: 17, xPad: 3.5, yPad: 4, tickLen: 6,
    plugins: [keys(legend, 0, 775)],
  });
}

function cfgG() {
  const r = 6.3;
  const one = (i: number) => [{ x: G_CV0[i], y: G_CV5[i] }];
  const ds = [
    marks(one(0), BLACK, true, false, r),
    marks(one(1), BLUE, true, true, r),
    marks(one(2), RED, false, false, r),
    marks(one(3), GREEN, false, true, r),
    seg(G_UNITY, BLACK, 1.2, [2, 2]),
  ];
  return axisConfig({
    datasets: ds, padTop: 12.7, padRight: 25.7, yWidth: 46.7, xHeight: 32.3,
    x: { min: -0.0137, max: 0.5, ticks: G_TICKS }, y: { min: -0.0164, max: 0.5, ticks: G_TICKS },
    fontSize: 17, xPad: 4, yPad: 1, tickLen: 5,
    plugins: [minorTicks(G_MINOR, G_MINOR, 3)],
  });
}

function cfgBL() {
  return traceConfig(67.24, 0, 18.125, [
    seg(B_L_WT_JUMP, BLACK, 1.5), seg(B_L_B4_JUMP, BLUE, 1.5),
    trace(B_L_WT_5, BLACK, true, 2), trace(B_L_B4_5, BLUE, true, 2),
    trace(B_L_WT_0, BLACK, false, 1.3), trace(B_L_B4_0, BLUE, false, 1.3),
  ]);
}
function cfgBR() {
  return traceConfig(65.52, 0, 18.125, [
    seg(B_R_FGF_JUMP, RED, 1.5), seg(B_R_DKO_JUMP, GREEN, 1.5),
    trace(B_R_FGF_5, RED, true, 2), trace(B_R_DKO_5, GREEN, true, 2),
    trace(B_R_FGF_0, RED, false, 1.3), trace(B_R_DKO_0, GREEN, false, 1.3),
  ]);
}
function cfgCL() {
  return traceConfig(45.45, 0, 9.41, [
    seg(C_L_B4_JUMP, BLUE, 1.6), seg(C_L_WT_STEP, BLACK, 1.3),
    seg(C_L_B4_PRE1, BLUE, 1.5), seg(C_L_B4_PRE2, BLUE, 1.5), seg(C_L_WT_PRE, BLACK, 1.5),
    trace(C_L_B4_5, BLUE, true, 2), trace(C_L_WT_5, BLACK, true, 2),
    trace(C_L_WT_0, BLACK, false, 1.3), trace(C_L_B4_0, BLUE, false, 1.3),
  ]);
}
function cfgCR() {
  return traceConfig(45.45, 0, 9.41, [
    seg(C_R_FGF_JUMP, RED, 1.6), seg(C_R_FGF_STEP, RED, 1.3), seg(C_R_DKO_JUMP, GREEN, 1.3),
    seg(C_R_DKO_PRE, GREEN, 1.5), seg(C_R_FGF_PRE, RED, 1.5),
    trace(C_R_FGF_5, RED, true, 2), trace(C_R_DKO_5, GREEN, true, 2),
    trace(C_R_FGF_0, RED, false, 1.3), trace(C_R_DKO_0, GREEN, false, 1.3),
  ]);
}

export default function App() {
  return (
    <div style={{ position: 'absolute', left: 0, top: 0, width: 800, height: 1055, background: '#fff', overflow: 'hidden', fontFamily: FONT, color: '#000' }}>
      <ChartCanvas left={28} top={10} width={382} height={235} config={cfgALeft()} />
      <ChartCanvas left={390} top={20} width={410} height={210} config={cfgARight()} />
      <ChartCanvas left={30} top={257} width={195} height={203} config={cfgBL()} />
      <ChartCanvas left={215} top={257} width={190} height={203} config={cfgBR()} />
      <ChartCanvas left={425} top={253} width={190} height={207} config={cfgCL()} />
      <ChartCanvas left={610} top={253} width={190} height={207} config={cfgCR()} />
      <ChartCanvas left={0} top={480} width={560} height={285} config={cfgD()} />
      <ChartCanvas left={540} top={505} width={260} height={225} config={cfgE()} />
      <ChartCanvas left={0} top={775} width={540} height={258} config={cfgF()} />
      <ChartCanvas left={540} top={790} width={260} height={215} config={cfgG()} />

      {/* panel letters */}
      <L x={7} y={8} s={15} a="middle" b>A</L>
      <L x={7} y={254} s={15} a="middle" b>B</L>
      <L x={410} y={255} s={15} a="middle" b>C</L>
      <L x={8} y={492} s={15} a="middle" b>D</L>
      <L x={517} y={493} s={15} a="middle" b>E</L>
      <L x={7} y={793} s={15} a="middle" b>F</L>
      <L x={517} y={795} s={15} a="middle" b>G</L>

      {/* A left */}
      <L x={54} y={22} s={18} a="middle">-90</L>
      <L x={95} y={12} s={18} a="middle">-30</L>
      <VLine x={132} y1={170} y2={197} />
      <HLine x1={132} x2={205} y={197} />
      <L x={138} y={160} s={17}>2 nA</L>
      <L x={138} y={181} s={17}>2 ms</L>
      <L x={207} y={81} s={15}>0 TTX</L>
      <L x={242} y={97} s={15}>{GROUPS[0]}</L>
      <L x={310} y={97} s={15}>{GROUPS[2]}</L>
      <L x={242} y={113} s={15}>{GROUPS[1]}</L>
      <L x={310} y={113} s={15}>{GROUPS[3]}</L>
      <L x={207} y={137} s={15}>5 TTX</L>
      <L x={242} y={153} s={15}>{GROUPS[0]}</L>
      <L x={314} y={153} s={15}>{GROUPS[2]}</L>
      <L x={242} y={170} s={15}>{GROUPS[1]}</L>
      <L x={314} y={170} s={15}>{GROUPS[3]}</L>

      {/* A right */}
      <L x={679} y={50} s={14}>5 nM TTX</L>
      <L x={718} y={156} s={14}>0 TTX</L>
      <L x={411} y={115} s={18} rot>I<Sub>trans</Sub> (nA)</L>
      <L x={613} y={230} s={18} a="middle">Voltage (mV)</L>

      {/* B */}
      <L x={147} y={288} s={14}>5 nM TTX</L>
      <L x={155} y={333} s={14}>0 TTX</L>
      <L x={343} y={283} s={14}>5 nM TTX</L>
      <L x={348} y={312} s={14}>0 TTX</L>
      <VLine x={93} y1={368} y2={424} />
      <HLine x1={93} x2={151} y={424} />
      <L x={98} y={390} s={17}>5%</L>
      <L x={98} y={410} s={17}>20 ms</L>
      <L x={38} y={455} s={46} a="middle" b>~</L>
      <L x={224} y={455} s={46} a="middle" b>~</L>

      {/* C */}
      <L x={540} y={284} s={14}>5 nM TTX</L>
      <L x={563} y={331} s={14}>0 TTX</L>
      <L x={737} y={283} s={14}>5 nM TTX</L>
      <L x={747} y={325} s={14}>0 TTX</L>
      <VLine x={498} y1={388} y2={432} />
      <HLine x1={498} x2={582} y={432} />
      <L x={510} y={397} s={17}>2%</L>
      <L x={510} y={416} s={17}>20 ms</L>
      <L x={437} y={457} s={20} a="middle" b>~</L>
      <L x={624} y={457} s={20} a="middle" b>~</L>

      {/* D */}
      <L x={130} y={586} s={14}>0 TTX</L>
      <L x={158} y={717} s={14}>5 nM TTX</L>
      <L x={396} y={564} s={14}>{GROUPS[0]}</L>
      <L x={396} y={581} s={14}>{GROUPS[1]}</L>
      <L x={396} y={598} s={14}>{GROUPS[2]}</L>
      <L x={396} y={615} s={14}>{GROUPS[3]}</L>
      <L x={17} y={607} s={18} rot>relative I<Sub>rsg</Sub> (%)</L>
      <L x={281} y={773} s={18} a="middle">Voltage (mV)</L>

      {/* E */}
      <L x={540} y={602} s={17} rot>relative I<Sub>rsg</Sub> in 5 nM TTX</L>
      <L x={682} y={732} s={17} a="middle">relative I<Sub>rsg</Sub> in 0 TTX</L>

      {/* F */}
      <L x={43} y={897} s={18} rot>Proportion I<Sub>rsg</Sub> eliminated</L>
      <L x={66} y={884} s={18} rot>by 5 nM TTX</L>
      <L x={276} y={1043} s={18} a="middle">relative I<Sub>rsg</Sub> in 0 TTX (control)</L>
      <div style={{ position: 'absolute', left: 321, top: 939, width: 122, height: 52, border: '1.5px solid #333', boxSizing: 'border-box' }} />
      <L x={353} y={946.7} s={10}>{F_LEGEND[0]}</L>
      <L x={353} y={958.3} s={10}>{F_LEGEND[1]}</L>
      <L x={353} y={970} s={10}>{F_LEGEND[2]}</L>
      <L x={353} y={981.7} s={10}>{F_LEGEND[3]}</L>

      {/* G */}
      <L x={540} y={885} s={18} rot>CV 5 nM TTX</L>
      <L x={683} y={1013} s={18} a="middle">CV 0 TTX</L>
    </div>
  );
}
